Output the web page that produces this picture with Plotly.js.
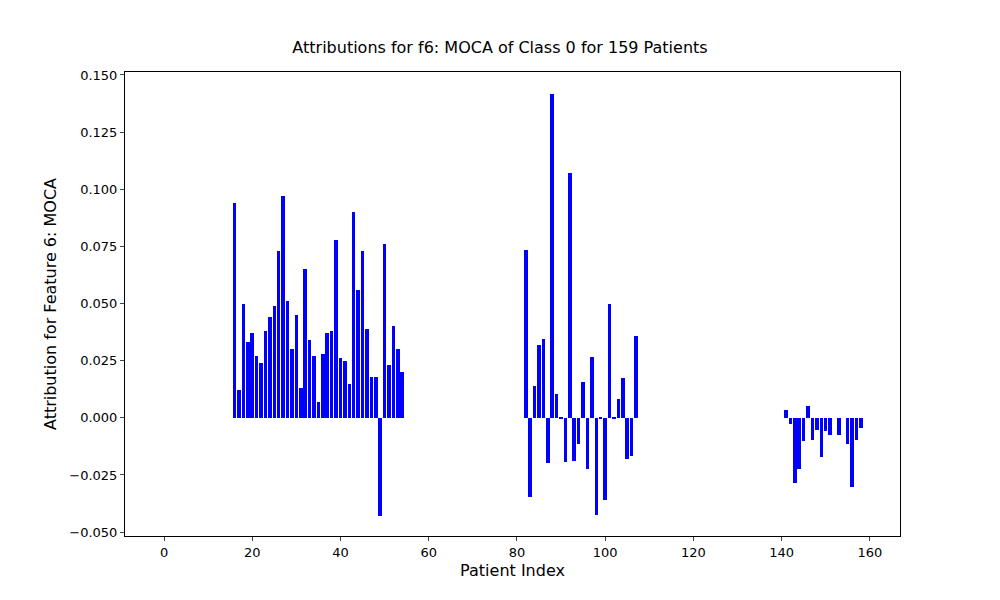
<!DOCTYPE html>
<html>
<head>
<script src="https://cdn.plot.ly/plotly-3.0.1.min.js"></script>
</head>
<body style="margin:0">
<div id="plot" style="width:1000px;height:600px"></div>
<script>
// patient indices that have attributions
let group1Start = 16;
let group1 = [0.094, 0.012, 0.050, 0.033, 0.037, 0.027, 0.024, 0.038, 0.044, 0.049,
  0.073, 0.097, 0.051, 0.030, 0.045, 0.013, 0.065, 0.034, 0.027, 0.007,
  0.028, 0.037, 0.038, 0.078, 0.026, 0.025, 0.015, 0.090, 0.056, 0.073,
  0.039, 0.018, 0.018, -0.043, 0.076, 0.023, 0.040, 0.030, 0.020];
let group2Start = 82;
let group2 = [0.0735, -0.0346, 0.014, 0.0317, 0.0343, -0.0198, 0.1417, 0.0106, -0.0003, -0.0194,
  0.107, -0.0188, -0.0114, 0.0158, -0.0223, 0.0264, -0.0425, -0.0003, -0.036, 0.050,
  -0.0003, 0.0084, 0.0176, -0.0179, -0.0167, 0.0356];
let group3Start = 141;
let group3 = [0.0035, -0.0026, -0.0286, -0.0224, -0.0101, 0.0053, -0.0097, -0.0053, -0.0172, -0.0057,
  -0.0075, 0, -0.0075, 0, -0.0114, -0.0304, -0.0097, -0.0045];

// Build full 159-patient list (zeros elsewhere)
let patients = [];
let attributions = [];
for (let i = 0; i < 159; i++) {
  patients.push(i);
  attributions.push(0);
}
group1.forEach((v, i) => attributions[group1Start + i] = v);
group2.forEach((v, i) => attributions[group2Start + i] = v);
group3.forEach((v, i) => attributions[group3Start + i] = v);

let trace1 = {
  x: patients,
  y: attributions,
  type: "bar",
  width: 0.8,
  marker: {color: "blue"}
};

let layout = {
  width: 1000,
  height: 600,
  margin: {l: 125, r: 100, t: 72, b: 64},
  paper_bgcolor: "white",
  plot_bgcolor: "white",
  font: {family: "DejaVu Sans", size: 13, color: "black"},
  title: {text: "Attributions for f6: MOCA of Class 0 for 159 Patients", x: 0.5, y: 0.93, font: {size: 16}},
  xaxis: {
    title: {text: "Patient Index", standoff: 6},
    range: [-8.85, 166.85],
    tickvals: [0, 20, 40, 60, 80, 100, 120, 140, 160],
    showgrid: false, zeroline: false,
    showline: true, mirror: true, linecolor: "black",
    ticks: "outside", ticklen: 4
  },
  yaxis: {
    title: {text: "Attribution for Feature 6: MOCA", standoff: 8},
    range: [-0.0517, 0.1513],
    tickvals: [-0.05, -0.025, 0, 0.025, 0.05, 0.075, 0.1, 0.125, 0.15],
    tickformat: ".3f",
    showgrid: false, zeroline: false,
    showline: true, mirror: true, linecolor: "black",
    ticks: "outside", ticklen: 4
  },
  bargap: 0
};

Plotly.newPlot("plot", [trace1], layout, {displayModeBar: false});
</script>
</body>
</html>
